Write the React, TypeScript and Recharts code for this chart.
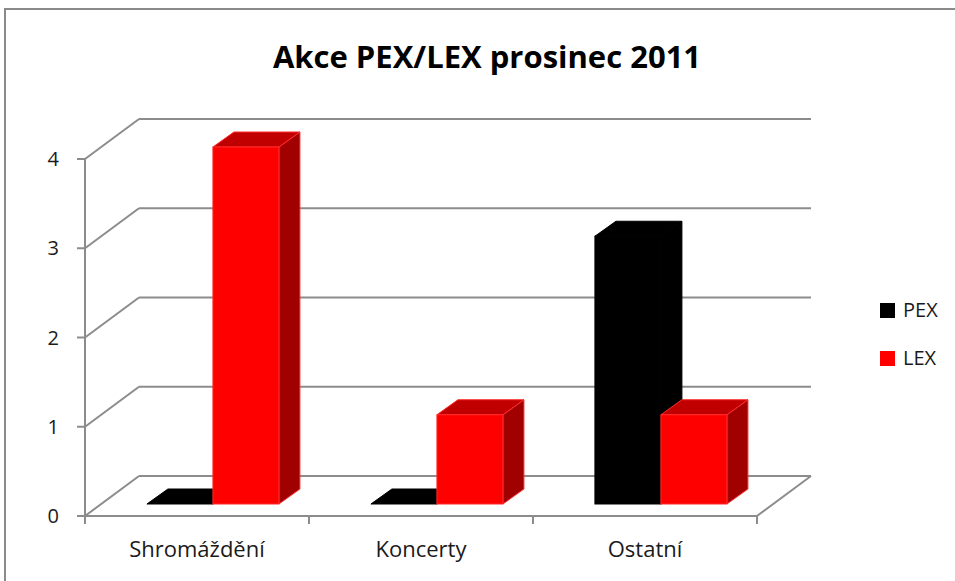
import React from 'react';
import { BarChart, Bar, XAxis, YAxis, CartesianGrid, Legend } from 'recharts';

const categories = ['Shromáždění', 'Koncerty', 'Ostatní'];
const seriesNames = ['PEX', 'LEX'];
const pexValues = [0, 0, 3];
const lexValues = [4, 1, 1];
const yTicks = [0, 1, 2, 3, 4];
const titleText = 'Akce PEX/LEX prosinec 2011';

const data = categories.map((name, i) => ({ name, PEX: pexValues[i], LEX: lexValues[i] }));

const W = 955;
const H = 581;
const FONT = "'Open Sans', 'Noto Sans', sans-serif";
const GRID = '#8c8c8c';
const TEXT = '#1a1a1a';
const WALL_DX = 54;
const WALL_DY = -40;
const BAR_OX = 16;
const BAR_OY = -12;
const BAR_DX = 21;
const BAR_DY = -15;

const renderGridLine = (props: any) => {
  const { x1, y1, x2, y, height, index } = props;
  const isFloor = Math.abs(y1 - (y + height)) < 0.5;
  return (
    <g key={`grid-${index}`}>
      <line x1={x1} y1={y1} x2={x1 + WALL_DX} y2={y1 + WALL_DY} stroke={GRID} strokeWidth={2} />
      <line x1={x1 + WALL_DX} y1={y1 + WALL_DY} x2={x2 + WALL_DX} y2={y1 + WALL_DY} stroke={GRID} strokeWidth={2} />
      {isFloor && (
        <line x1={x2} y1={y1} x2={x2 + WALL_DX} y2={y1 + WALL_DY} stroke={GRID} strokeWidth={2} />
      )}
    </g>
  );
};

const makeBar3D = (front: string, top: string, side: string, edge: string) => (props: any) => {
  const { x, y, width, height } = props;
  if (x == null || y == null) return null;
  const fx = x + BAR_OX;
  const fy = y + BAR_OY;
  const h = Math.max(0, height);
  const topPts = `${fx},${fy} ${fx + BAR_DX},${fy + BAR_DY} ${fx + width + BAR_DX},${fy + BAR_DY} ${fx + width},${fy}`;
  const sidePts = `${fx + width},${fy} ${fx + width + BAR_DX},${fy + BAR_DY} ${fx + width + BAR_DX},${fy + h + BAR_DY} ${fx + width},${fy + h}`;
  return (
    <g>
      <polygon points={sidePts} fill={side} stroke={edge} strokeWidth={1} strokeLinejoin="round" />
      <polygon points={topPts} fill={top} stroke={edge} strokeWidth={1} strokeLinejoin="round" />
      {h > 0 && <rect x={fx} y={fy} width={width} height={h} fill={front} stroke={edge} strokeWidth={1} />}
    </g>
  );
};

const PexShape = makeBar3D('#000000', '#000000', '#000000', '#000000');
const LexShape = makeBar3D('#ff0000', '#c00000', '#a00000', '#ff2a2a');

const CategoryTick = (props: any) => {
  const { x, y, payload, index, visibleTicksCount } = props;
  const half = payload && payload.offset ? payload.offset : 112;
  return (
    <g>
      <line x1={x - half} y1={y} x2={x - half} y2={y + 8} stroke={GRID} strokeWidth={2} />
      {index === visibleTicksCount - 1 && (
        <line x1={x + half} y1={y} x2={x + half} y2={y + 8} stroke={GRID} strokeWidth={2} />
      )}
      <text x={x} y={y + 41} textAnchor="middle" fontFamily={FONT} fontSize={22} fill={TEXT}>
        {payload.value}
      </text>
    </g>
  );
};

const LegendContent = (props: any) => {
  const items = [...(props.payload || [])].sort(
    (a: any, b: any) => seriesNames.indexOf(a.value) - seriesNames.indexOf(b.value)
  );
  return (
    <div style={{ fontFamily: FONT }}>
      {items.map((it: any, i: number) => (
        <div key={i} style={{ display: 'flex', alignItems: 'center', height: 16, marginBottom: 32 }}>
          <div style={{ width: 15, height: 15, background: it.color, marginRight: 8 }} />
          <span style={{ fontSize: 20, color: TEXT, lineHeight: '16px' }}>{it.value}</span>
        </div>
      ))}
    </div>
  );
};

export default function App() {
  return (
    <div style={{ position: 'absolute', left: 0, top: 0, width: W, height: H, overflow: 'hidden', background: '#fff' }}>
      <BarChart
        width={W}
        height={H}
        data={data}
        margin={{ top: 159, right: 198, bottom: 5, left: 45 }}
        barCategoryGap="20.5%"
        barGap={0}
      >
        <CartesianGrid vertical={false} horizontal={renderGridLine} />
        <XAxis
          dataKey="name"
          height={60}
          axisLine={{ stroke: GRID, strokeWidth: 2 }}
          tickLine={false}
          tickSize={0}
          tickMargin={0}
          tick={<CategoryTick />}
          interval={0}
        />
        <YAxis
          width={40}
          domain={[0, 4]}
          ticks={yTicks}
          axisLine={{ stroke: GRID, strokeWidth: 2 }}
          tickLine={{ stroke: GRID, strokeWidth: 2 }}
          tickSize={8}
          tickMargin={18}
          tick={{ fill: TEXT, fontSize: 20, fontFamily: FONT }}
        />
        <Legend
          layout="vertical"
          align="center"
          verticalAlign="middle"
          wrapperStyle={{ left: 880, top: 302, width: 80, height: 80 }}
          content={<LegendContent />}
        />
        <Bar dataKey="PEX" name="PEX" fill="#000000" shape={PexShape} isAnimationActive={false} />
        <Bar dataKey="LEX" name="LEX" fill="#ff0000" shape={LexShape} isAnimationActive={false} />
      </BarChart>
      <svg width={W} height={H} style={{ position: 'absolute', left: 0, top: 0, pointerEvents: 'none' }}>
        <rect x={5} y={9} width={980} height={620} fill="none" stroke="#8a8a8a" strokeWidth={2} />
        <text x={487} y={68} textAnchor="middle" fontFamily={FONT} fontWeight="bold" fontSize={31} fill="#000">
          {titleText}
        </text>
      </svg>
    </div>
  );
}
